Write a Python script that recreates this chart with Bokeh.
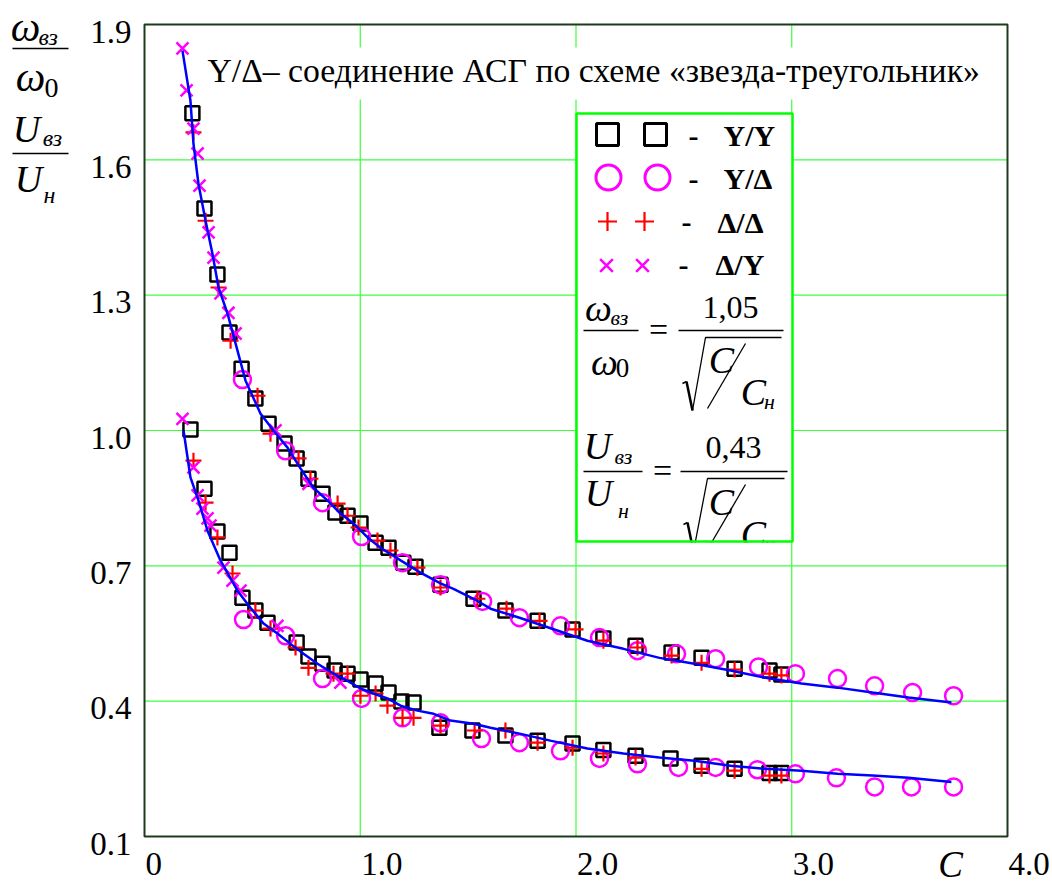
from bokeh.plotting import figure
from bokeh.models import Range1d
from bokeh.core.properties import value
from bokeh.embed import file_html
from bokeh.resources import INLINE

# ---------------- data ----------------
# upper family: omega_vz / omega_0
sq_up_c = [0.222, 0.278, 0.338, 0.394, 0.450, 0.514, 0.575, 0.649, 0.705, 0.760, 0.825, 0.885, 0.941, 1.001,
           1.071, 1.131, 1.200, 1.256, 1.372, 1.525, 1.673, 1.822, 1.984, 2.127, 2.276, 2.443, 2.582, 2.735,
           2.897, 2.952]
sq_up_v = [1.703, 1.492, 1.346, 1.217, 1.137, 1.071, 1.015, 0.971, 0.938, 0.893, 0.860, 0.818, 0.811, 0.794,
           0.751, 0.740, 0.707, 0.698, 0.658, 0.627, 0.601, 0.578, 0.559, 0.539, 0.523, 0.508, 0.496, 0.472,
           0.468, 0.459]
ci_up_c = [0.454, 0.654, 0.825, 1.006, 1.196, 1.372, 1.567, 1.738, 1.928, 2.109, 2.285, 2.466, 2.647, 2.846,
           3.017, 3.212, 3.384, 3.560, 3.750]
ci_up_v = [1.113, 0.955, 0.840, 0.765, 0.707, 0.658, 0.621, 0.585, 0.567, 0.541, 0.512, 0.505, 0.494, 0.476,
           0.461, 0.450, 0.434, 0.419, 0.412]
pl_up_c = [0.227, 0.283, 0.343, 0.399, 0.524, 0.584, 0.714, 0.769, 0.895, 0.941, 0.992, 1.080, 1.140, 1.265,
           1.372, 1.543, 1.678, 1.831, 1.998, 2.127, 2.285, 2.443, 2.582, 2.735, 2.897, 2.952]
pl_up_v = [1.661, 1.465, 1.317, 1.199, 1.077, 0.993, 0.938, 0.893, 0.838, 0.811, 0.785, 0.756, 0.734, 0.696,
           0.652, 0.627, 0.605, 0.578, 0.559, 0.534, 0.519, 0.501, 0.485, 0.470, 0.461, 0.457]
x_up_c = [0.176, 0.195, 0.227, 0.246, 0.255, 0.297, 0.320, 0.352, 0.389, 0.422, 0.607, 0.760]
x_up_v = [1.847, 1.754, 1.669, 1.614, 1.543, 1.439, 1.383, 1.304, 1.261, 1.215, 1.000, 0.882]
fit_up_c = [0.176, 0.213, 0.227, 0.250, 0.283, 0.315, 0.343, 0.385, 0.431, 0.468, 0.538, 0.598, 0.663, 0.723,
            0.783, 0.848, 0.908, 0.969, 1.034, 1.094, 1.187, 1.279, 1.372, 1.432, 1.525, 1.604, 1.738, 1.886,
            2.053, 2.220, 2.387, 2.549, 2.716, 2.878, 3.045, 3.212, 3.374, 3.541, 3.740]
fit_up_v = [1.842, 1.731, 1.636, 1.547, 1.465, 1.392, 1.317, 1.259, 1.177, 1.111, 1.037, 1.000, 0.962, 0.916,
            0.873, 0.845, 0.816, 0.794, 0.763, 0.740, 0.712, 0.685, 0.661, 0.649, 0.627, 0.605, 0.585, 0.561,
            0.534, 0.516, 0.496, 0.483, 0.468, 0.452, 0.439, 0.430, 0.419, 0.408, 0.397]

# lower family: U_vz / U_n
sq_lo_c = [0.213, 0.278, 0.338, 0.394, 0.454, 0.514, 0.570, 0.705, 0.760, 0.825, 0.881, 0.941, 1.001, 1.071,
           1.131, 1.191, 1.247, 1.367, 1.520, 1.673, 1.822, 1.984, 2.127, 2.276, 2.438, 2.582, 2.735, 2.897,
           2.952]
sq_lo_v = [1.002, 0.871, 0.776, 0.729, 0.629, 0.601, 0.574, 0.530, 0.499, 0.483, 0.468, 0.461, 0.448, 0.439,
           0.419, 0.399, 0.397, 0.341, 0.335, 0.324, 0.312, 0.306, 0.292, 0.279, 0.273, 0.257, 0.250, 0.241,
           0.241]
ci_lo_c = [0.459, 0.654, 0.825, 1.006, 1.196, 1.372, 1.562, 1.738, 1.928, 2.109, 2.285, 2.475, 2.647, 2.841,
           3.017, 3.207, 3.384, 3.555, 3.750]
ci_lo_v = [0.581, 0.545, 0.450, 0.406, 0.363, 0.352, 0.317, 0.308, 0.290, 0.273, 0.261, 0.253, 0.253, 0.248,
           0.239, 0.230, 0.210, 0.210, 0.210]
pl_lo_c = [0.227, 0.283, 0.338, 0.408, 0.514, 0.584, 0.700, 0.760, 0.876, 0.941, 1.001, 1.071, 1.126, 1.196,
           1.247, 1.372, 1.530, 1.673, 1.822, 1.984, 2.127, 2.276, 2.582, 2.735, 2.897, 2.952]
pl_lo_v = [0.933, 0.840, 0.763, 0.683, 0.601, 0.561, 0.519, 0.474, 0.461, 0.461, 0.412, 0.417, 0.390, 0.363,
           0.363, 0.346, 0.335, 0.335, 0.308, 0.297, 0.284, 0.275, 0.250, 0.246, 0.235, 0.235]
x_lo_c = [0.176, 0.227, 0.246, 0.269, 0.292, 0.306, 0.366, 0.408, 0.445, 0.616, 0.908]
x_lo_v = [1.026, 0.918, 0.856, 0.827, 0.805, 0.789, 0.696, 0.667, 0.645, 0.567, 0.441]
fit_lo_c = [0.181, 0.213, 0.250, 0.292, 0.352, 0.431, 0.491, 0.552, 0.616, 0.677, 0.737, 0.802, 0.876, 0.941,
            1.001, 1.061, 1.126, 1.187, 1.265, 1.340, 1.418, 1.525, 1.604, 1.738, 1.886, 2.053, 2.220, 2.387,
            2.549, 2.716, 2.878, 3.045, 3.212, 3.374, 3.541, 3.740]
fit_lo_v = [1.000, 0.896, 0.845, 0.778, 0.712, 0.645, 0.607, 0.572, 0.550, 0.527, 0.505, 0.483, 0.461, 0.445,
            0.428, 0.417, 0.406, 0.390, 0.379, 0.372, 0.357, 0.350, 0.341, 0.328, 0.312, 0.295, 0.284, 0.275,
            0.268, 0.257, 0.250, 0.246, 0.239, 0.235, 0.230, 0.221]

x_ticks = [0, 1, 2, 3, 4]
x_tick_labels = ["0", "1.0", "2.0", "3.0", "4.0"]
y_ticks = [0.1, 0.4, 0.7, 1.0, 1.3, 1.6, 1.9]
y_tick_labels = ["0.1", "0.4", "0.7", "1.0", "1.3", "1.6", "1.9"]
title_text = "Y/Δ– соединение АСГ по схеме «звезда-треугольник»"
legend_names = ["Y/Y", "Y/Δ", "Δ/Δ", "Δ/Y"]

SERIF = "Liberation Serif"
W, H = 1050, 886

# ---------------- scales: data window of the plot box ----------------
X0, X1, XMIN, XMAX = 144.0, 1007.0, 0.0, 4.0
Y0, Y1, YMAX, YMIN = 24.0, 836.0, 1.9, 0.1


def X(px):  # page pixel -> data x (layout helper)
    return XMIN + (px - X0) / (X1 - X0) * (XMAX - XMIN)


def Y(py):
    return YMAX - (py - Y0) / (Y1 - Y0) * (YMAX - YMIN)


def PX(x):
    return X0 + (x - XMIN) / (XMAX - XMIN) * (X1 - X0)


def PY(y):
    return Y0 + (YMAX - y) / (YMAX - YMIN) * (Y1 - Y0)


# the frame spans the whole canvas so that the labels around the box can be drawn too
p = figure(width=W, height=H, title=None, x_axis_type=None, y_axis_type=None,
           x_range=Range1d(X(0), X(W)), y_range=Range1d(Y(H), Y(0)),
           output_backend="svg", toolbar_location=None, min_border=0)
p.outline_line_color = None
p.background_fill_color = "white"
p.border_fill_color = "white"

# grid
GRID = "#3cff3c"
p.segment(x0=x_ticks[1:-1], x1=x_ticks[1:-1], y0=[YMIN] * 3, y1=[YMAX] * 3, line_color=GRID, line_width=1.2)
p.segment(x0=[XMIN] * 5, x1=[XMAX] * 5, y0=y_ticks[1:-1], y1=y_ticks[1:-1], line_color=GRID, line_width=1.2)


def gtext(px, py, s, size, style="normal", align="left"):
    p.text(x=[X(px)], y=[Y(py)], text=[s], text_font=value(SERIF), text_font_size=size,
           text_font_style=style, text_align=align, text_baseline="middle", text_color="black")


def gline(pts, w=1.5):
    p.line([X(a) for a, b in pts], [Y(b) for a, b in pts], line_color="black", line_width=w)


# title with its white box
p.quad(left=[X(198)], right=[X(986)], top=[Y(47)], bottom=[Y(99)], fill_color="white", line_color=None)
gtext(207, 70, title_text, "33.7px")

# ---------------- data ----------------
MAG, RED = "#ff00ff", "#ff0000"
for cc, vv in ((sq_up_c, sq_up_v), (sq_lo_c, sq_lo_v)):
    p.scatter(cc, vv, marker="square", size=14, fill_color=None, line_color="black", line_width=2.5)
for cc, vv in ((ci_up_c, ci_up_v), (ci_lo_c, ci_lo_v)):
    p.scatter(cc, vv, marker="circle", size=17, fill_color=None, line_color=MAG, line_width=2.5)
for cc, vv in ((pl_up_c, pl_up_v), (pl_lo_c, pl_lo_v)):
    p.scatter(cc, vv, marker="cross", size=16, line_color=RED, line_width=2.2)
for cc, vv in ((x_up_c, x_up_v), (x_lo_c, x_lo_v)):
    p.scatter(cc, vv, marker="x", size=17, line_color=MAG, line_width=2.5)
p.line(fit_up_c, fit_up_v, line_color="#0000ff", line_width=2.5)
p.line(fit_lo_c, fit_lo_v, line_color="#0000ff", line_width=2.5)

# ---------------- legend box ----------------
p.quad(left=[X(576)], right=[X(792)], top=[Y(113)], bottom=[Y(541)], fill_color="white", line_color=None)

p.scatter([X(607), X(655)], [Y(134)] * 2, marker="square", size=22, fill_color=None, line_color="black", line_width=3)
p.scatter([X(608), X(657)], [Y(177)] * 2, marker="circle", size=25, fill_color=None, line_color=MAG, line_width=3)
p.scatter([X(607), X(644)], [Y(221)] * 2, marker="cross", size=19, line_color=RED, line_width=2.2)
p.scatter([X(606), X(642)], [Y(265)] * 2, marker="x", size=18, line_color=MAG, line_width=2.5)
for px, py in ((693, 136), (693, 179), (686, 222), (683, 265)):
    gtext(px, py, "-", "30px", "bold", "center")
gtext(723, 135, legend_names[0], "30px", "bold")
gtext(723, 178, legend_names[1], "30px", "bold")
gtext(717, 222, legend_names[2], "30px", "bold")
gtext(715, 264, legend_names[3], "30px", "bold")

# formula 1
gtext(598, 307, "ω", "38px", "italic", "center")
gtext(610, 317, "вз", "22px", "italic")
gline([(583, 330), (638, 330)])
gtext(604, 361, "ω", "38px", "italic", "center")
gtext(622, 367, "0", "27px", "normal", "center")
gtext(658, 329, "=", "34px", "normal", "center")
gtext(730, 307, "1,05", "32px", "normal", "center")
gline([(678, 330), (783, 330)])
gline([(682, 383), (686, 381)], 1.5)
gline([(686, 381), (692, 410)], 2.5)
gline([(692, 410), (705, 337), (781, 337)], 1.3)
gtext(721, 359, "C", "38px", "italic", "center")
gline([(707, 408), (745, 343)], 1.3)
gtext(753, 391, "C", "38px", "italic", "center")
gtext(769, 401, "н", "22px", "italic", "center")

# formula 2
gtext(597, 445, "U", "38px", "italic", "center")
gtext(623, 456, "вз", "22px", "italic", "center")
gline([(583, 471), (642, 471)])
gtext(598, 492, "U", "38px", "italic", "center")
gtext(623, 510, "н", "22px", "italic", "center")
gtext(662, 470, "=", "34px", "normal", "center")
gtext(733, 447, "0,43", "32px", "normal", "center")
gline([(680, 471), (787, 471)])
gline([(683, 524), (687, 522)], 1.5)
gline([(687, 522), (693, 551)], 2.5)
gline([(693, 551), (707, 478), (784, 478)], 1.3)
gtext(721, 501, "C", "38px", "italic", "center")
gline([(707, 549), (745, 484)], 1.3)
gtext(753, 533, "C", "38px", "italic", "center")
gtext(769, 543, "н", "22px", "italic", "center")

# cut the formula at the bottom of the box, then the green border
p.quad(left=[X(578)], right=[X(790)], top=[Y(542)], bottom=[Y(560)], fill_color="white", line_color=None)
p.quad(left=[X(576)], right=[X(792)], top=[Y(113)], bottom=[Y(541)], fill_color=None,
       line_color="#00ff00", line_width=2.5)

# plot box outline
p.quad(left=[XMIN], right=[XMAX], top=[YMAX], bottom=[YMIN], fill_color=None, line_color="#1c3a1c", line_width=2)

# ---------------- tick labels ----------------
p.text(x=[X(PX(t) + 1) for t in x_ticks], y=[Y(863)] * len(x_ticks), text=x_tick_labels,
       text_font=value(SERIF), text_font_size="33px", text_align="left", text_baseline="middle",
       text_color="black")
p.text(x=[X(131)] * len(y_ticks), y=[Y(PY(t) + 7) for t in y_ticks], text=y_tick_labels,
       text_font=value(SERIF), text_font_size="33px", text_align="right", text_baseline="middle",
       text_color="black")
gtext(950, 864, "C", "37px", "italic", "center")

# ---------------- y axis label (two stacked fractions) ----------------
gtext(25, 26, "ω", "42px", "italic", "center")
gtext(38, 36, "вз", "24px", "italic")
gline([(12, 48), (68, 48)])
gtext(30, 76, "ω", "42px", "italic", "center")
gtext(51, 87, "0", "28px", "normal", "center")
gtext(26, 128, "U", "38px", "italic", "center")
gtext(52, 137, "вз", "24px", "italic", "center")
gline([(12, 153), (68, 153)])
gtext(28, 178, "U", "38px", "italic", "center")
gtext(49, 194, "н", "24px", "italic", "center")

open("out.html", "w").write(file_html(p, INLINE))
